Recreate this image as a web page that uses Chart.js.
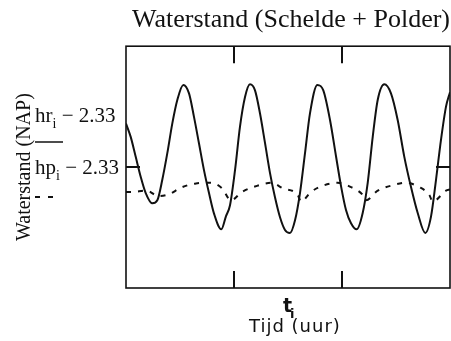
<!DOCTYPE html>
<html>
<head>
<meta charset="utf-8">
<title>Waterstand (Schelde + Polder)</title>
<script src="https://cdn.jsdelivr.net/npm/chart.js@4.4.1/dist/chart.umd.min.js"></script>
<style>
  body { margin: 0; background: #fff; }
  canvas { display: block; }
</style>
</head>
<body>
<canvas id="grafiek" width="451" height="341"></canvas>
<script>
    // tijd (uur) en waterstand Schelde (hr - 2.33)
    const tijdR = [0, 0.87, 1.80, 2.72, 3.65, 4.87, 5.80, 6.72, 7.65, 8.57, 9.50, 10.61, 11.67, 12.59, 13.52,
        14.44, 15.37, 16.30, 17.65, 18.52, 19.26, 20.19, 21.11, 22.04, 22.96, 23.89, 24.81, 25.74, 26.67, 27.59,
        28.52, 29.44, 30.37, 31.30, 32.22, 33.15, 34.07, 35.43, 36.54, 37.78, 38.89, 39.81, 40.74, 41.67, 42.72,
        43.83, 44.76, 45.69, 46.61, 47.83, 49.07, 50.31, 51.54, 52.78, 54.02, 55.43, 56.48, 57.41, 58.33, 59.26, 60];
    const hr = [0.72, 0.50, 0.17, -0.16, -0.43, -0.60, -0.55, -0.21, 0.23, 0.72, 1.11, 1.36, 1.22, 0.83, 0.39,
        -0.05, -0.43, -0.77, -1.03, -0.81, -0.63, -0.05, 0.67, 1.16, 1.37, 1.27, 0.89, 0.40, -0.10, -0.50,
        -0.83, -1.04, -1.09, -0.88, -0.43, 0.23, 0.89, 1.36, 1.27, 0.78, 0.18, -0.31, -0.71, -0.93, -1.03,
        -0.76, -0.26, 0.50, 1.11, 1.37, 1.22, 0.78, 0.17, -0.33, -0.76, -1.09, -0.82, -0.21, 0.45, 1.00, 1.24];

    // tijd (uur) en waterstand polder (hp - 2.33)
    const tijdP = [0, 0.93, 3.89, 5.93, 7.96, 10.19, 12.96, 15.56, 17.78, 19.44, 21.48, 24.26, 26.85, 29.07, 31.80,
        32.41, 34.26, 36.72, 39.20, 41.67, 43.83, 44.44, 46.61, 49.39, 51.85, 54.31, 56.17, 56.80, 59.26, 60];
    const hp = [-0.41, -0.41, -0.39, -0.48, -0.45, -0.34, -0.27, -0.26, -0.35, -0.55, -0.41, -0.31, -0.26, -0.35, -0.46,
        -0.57, -0.41, -0.30, -0.26, -0.33, -0.46, -0.55, -0.39, -0.30, -0.26, -0.33, -0.46, -0.57, -0.39, -0.37];

    // streepjes op de assen
    const xTicks = [0, 20, 40, 60];
    const yTicks = [-2, 0, 2];

    const serif = '"Liberation Serif", "Times New Roman", serif';
    const sans = '"DejaVu Sans", sans-serif';

    // tekst met subscript, bv. hr_i - 2.33
    const tekstMetSub = (ctx, basis, sub, rest, x, y, grootte) => {
        ctx.font = grootte + 'px ' + serif;
        ctx.fillText(basis, x, y);
        let w = ctx.measureText(basis).width;
        ctx.font = Math.round(grootte * 0.68) + 'px ' + serif;
        ctx.fillText(sub, x + w, y + 6);
        w += ctx.measureText(sub).width;
        ctx.font = grootte + 'px ' + serif;
        ctx.fillText(rest, x + w, y);
    };

    // kader, naar binnen gerichte streepjes en de Mathcad-labels
    const mathcadKader = {
        id: 'mathcadKader',
        afterDraw(chart) {
            const { ctx, chartArea: a, scales } = chart;
            ctx.save();
            ctx.strokeStyle = '#111';
            ctx.fillStyle = '#111';
            ctx.lineWidth = 1.6;
            ctx.strokeRect(a.left, a.top, a.right - a.left, a.bottom - a.top);

            ctx.lineWidth = 2;
            ctx.beginPath();
            xTicks.slice(1, -1).forEach(v => {
                const px = scales.x.getPixelForValue(v);
                ctx.moveTo(px, a.top); ctx.lineTo(px, a.top + 17);
                ctx.moveTo(px, a.bottom); ctx.lineTo(px, a.bottom - 17);
            });
            yTicks.slice(1, -1).forEach(v => {
                const py = scales.y.getPixelForValue(v);
                ctx.moveTo(a.left, py); ctx.lineTo(a.left + 14, py);
                ctx.moveTo(a.right, py); ctx.lineTo(a.right - 14, py);
            });
            ctx.stroke();

            // legenda links
            ctx.textBaseline = 'alphabetic';
            ctx.textAlign = 'left';
            tekstMetSub(ctx, 'hr', 'i', ' \u2212 2.33', 35, 122, 21);
            tekstMetSub(ctx, 'hp', 'i', ' \u2212 2.33', 35, 174, 21);
            ctx.lineWidth = 1.5;
            ctx.beginPath();
            ctx.moveTo(35, 142); ctx.lineTo(63, 142);
            ctx.stroke();
            ctx.lineWidth = 2;
            ctx.setLineDash([5, 8]);
            ctx.beginPath();
            ctx.moveTo(35, 197); ctx.lineTo(54, 197);
            ctx.stroke();
            ctx.setLineDash([]);

            // x-as label
            ctx.font = 'bold 19px ' + sans;
            ctx.fillText('t', 283, 312);
            ctx.font = 'bold 13px ' + sans;
            ctx.fillText('i', 290, 318);
            ctx.font = '18px ' + sans;
            ctx.textAlign = 'left';
            ctx.letterSpacing = '1px';
            ctx.fillText('Tijd (uur)', 249, 332);
            ctx.restore();
        }
    };

    const ctx = document.getElementById('grafiek').getContext('2d');
    const grafiek = new Chart(ctx, {
        type: 'line',
        data: {
            datasets: [
                {
                    label: 'hr - 2.33',
                    data: tijdR.map((t, i) => ({ x: t, y: hr[i] })),
                    borderColor: '#111',
                    borderWidth: 2,
                    pointRadius: 0,
                    cubicInterpolationMode: 'monotone',
                    fill: false
                },
                {
                    label: 'hp - 2.33',
                    data: tijdP.map((t, i) => ({ x: t, y: hp[i] })),
                    borderColor: '#111',
                    borderWidth: 2,
                    borderDash: [5, 7],
                    pointRadius: 0,
                    cubicInterpolationMode: 'monotone',
                    fill: false
                }
            ]
        },
        options: {
            responsive: false,
            animation: false,
            layout: { padding: { left: 0, right: 1, top: 0, bottom: 53 } },
            plugins: {
                legend: { display: false },
                tooltip: { enabled: false },
                title: {
                    display: true,
                    text: 'Waterstand (Schelde + Polder)',
                    align: 'end',
                    color: '#111',
                    font: { family: serif, size: 26, weight: 'normal' },
                    padding: { top: 5, bottom: 10 }
                }
            },
            scales: {
                x: {
                    type: 'linear',
                    display: false,
                    min: xTicks[0],
                    max: xTicks[xTicks.length - 1]
                },
                y: {
                    type: 'linear',
                    min: yTicks[0],
                    max: yTicks[yTicks.length - 1],
                    ticks: { display: false },
                    grid: { display: false },
                    border: { display: false },
                    title: {
                        display: true,
                        text: 'Waterstand (NAP)',
                        color: '#111',
                        font: { family: serif, size: 20 },
                        padding: { top: 13, bottom: 0 }
                    },
                    afterFit: (scale) => { scale.width = 126; }
                }
            }
        },
        plugins: [mathcadKader]
    });
</script>
</body>
</html>
